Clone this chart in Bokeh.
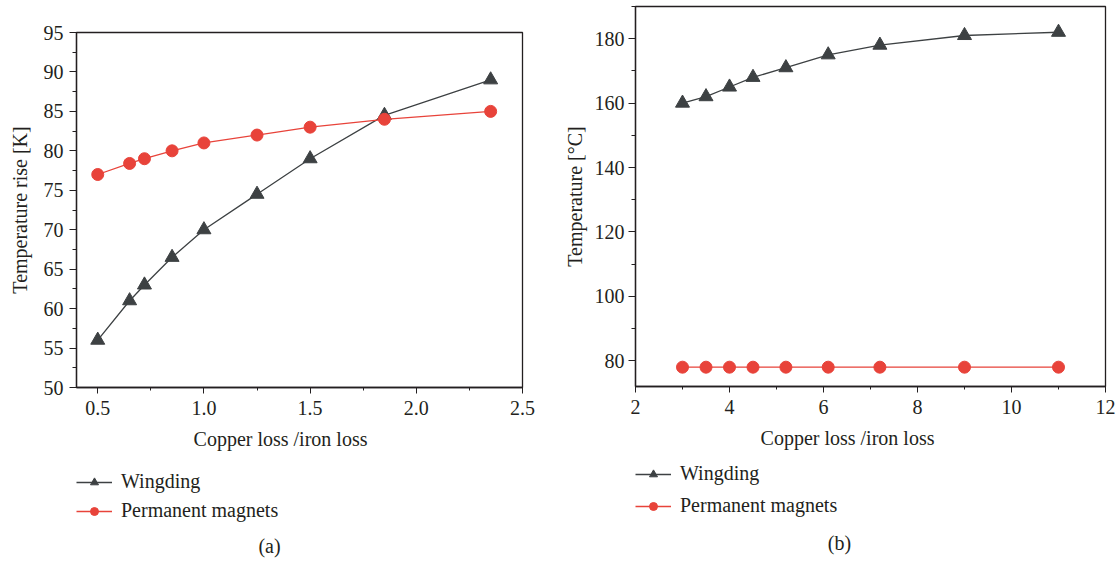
from bokeh.plotting import figure
from bokeh.models import (SingleIntervalTicker, NumeralTickFormatter, Legend, LegendItem,
                          Label, Range1d)
from bokeh.layouts import row, column
from bokeh.embed import file_html
from bokeh.resources import INLINE

FONT = "Liberation Serif"
TEXT = "#231f20"
GRAY = "#3d4143"
RED = "#e8433a"

# ---------------- data ----------------
series_names = ["Wingding", "Permanent magnets"]

# panel (a)
ratio_a = [0.5, 0.65, 0.72, 0.85, 1.0, 1.25, 1.5, 1.85, 2.35]
winding_a = [56, 61, 63, 66.5, 70, 74.5, 79, 84.5, 89]
magnets_a = [77, 78.4, 79, 80, 81, 82, 83, 84, 85]

# panel (b)
ratio_b = [3, 3.5, 4, 4.5, 5.2, 6.1, 7.2, 9, 11]
winding_b = [160, 162, 165, 168, 171, 175, 178, 181, 182]
magnets_b = [78, 78, 78, 78, 78, 78, 78, 78, 78]

x_label = "Copper loss /iron loss"
y_label_a = "Temperature rise [K]"
y_label_b = "Temperature [°C]"

MAIN_H = 425
FOOT_H = 562 - MAIN_H


def style_axis(ax, tick_out, minor_out):
    ax.axis_line_color = TEXT
    ax.axis_line_width = 1.3
    ax.major_tick_line_color = TEXT
    ax.minor_tick_line_color = TEXT
    ax.major_tick_in = 0
    ax.minor_tick_in = 0
    ax.major_tick_out = tick_out
    ax.minor_tick_out = minor_out
    ax.major_label_text_font = FONT
    ax.major_label_text_font_size = "20px"
    ax.major_label_text_color = TEXT
    ax.axis_label_text_font = FONT
    ax.axis_label_text_font_size = "20px"
    ax.axis_label_text_font_style = "normal"
    ax.axis_label_text_color = TEXT


def add_series(p, xs, yw, ym):
    lw = p.line(xs, yw, line_color=GRAY, line_width=1.3)
    sw = p.scatter(xs, yw, marker="triangle", size=14, fill_color=GRAY, line_color=GRAY)
    lm = p.line(xs, ym, line_color=RED, line_width=1.3)
    sm = p.scatter(xs, ym, marker="circle", size=12, fill_color=RED, line_color=RED)
    return lw, sw, lm, sm


def make_panel(xs, yw, ym, xr, yr, xint, yint, xfmt, ylab, borders,
               ylab_standoff, ytick_standoff):
    left, right, top, bottom = borders
    p = figure(width=560, height=MAIN_H, x_range=Range1d(*xr), y_range=Range1d(*yr),
               output_backend="svg", toolbar_location=None, title=None,
               min_border_left=left, min_border_right=right,
               min_border_top=top, min_border_bottom=bottom)
    p.grid.visible = False
    p.outline_line_color = TEXT
    p.outline_line_width = 1.3

    p.xaxis.ticker = SingleIntervalTicker(interval=xint, num_minor_ticks=2)
    p.yaxis.ticker = SingleIntervalTicker(interval=yint, num_minor_ticks=2)
    if xfmt:
        p.xaxis.formatter = NumeralTickFormatter(format=xfmt)
    style_axis(p.xaxis[0], 6, 3)
    style_axis(p.yaxis[0], 7, 4)
    p.xaxis.major_label_standoff = 7
    p.yaxis.major_label_standoff = ytick_standoff
    p.yaxis.axis_label = ylab
    p.yaxis.axis_label_standoff = ylab_standoff

    add_series(p, xs, yw, ym)
    return p


def make_footer(xs, yw, ym, leg_loc, leg_spacing, xlab_pos, cap_pos, cap_text):
    # the series are drawn here only to feed the legend; the ranges keep them out of view
    f = figure(width=560, height=FOOT_H, x_range=Range1d(-10, -9), y_range=Range1d(-10, -9),
               output_backend="svg", toolbar_location=None, title=None,
               x_axis_type=None, y_axis_type=None,
               min_border_left=0, min_border_right=0, min_border_top=0, min_border_bottom=0)
    f.grid.visible = False
    f.outline_line_color = None
    lw, sw, lm, sm = add_series(f, xs, yw, ym)
    legend = Legend(items=[LegendItem(label=series_names[0], renderers=[lw, sw]),
                           LegendItem(label=series_names[1], renderers=[lm, sm])],
                    location=leg_loc, orientation="vertical",
                    glyph_width=36, glyph_height=20, label_height=20,
                    label_standoff=9, spacing=leg_spacing, padding=0, margin=0,
                    border_line_color=None, background_fill_alpha=0,
                    label_text_font=FONT, label_text_font_size="20px",
                    label_text_color=TEXT)
    f.add_layout(legend)
    f.add_layout(Label(x=xlab_pos[0], y=xlab_pos[1], x_units="screen", y_units="screen",
                       text=x_label, text_align="center", text_baseline="alphabetic",
                       text_font=FONT, text_font_size="20px", text_color=TEXT))
    f.add_layout(Label(x=cap_pos[0], y=cap_pos[1], x_units="screen", y_units="screen",
                       text=cap_text, text_align="center", text_baseline="alphabetic",
                       text_font=FONT, text_font_size="20px", text_color=TEXT))
    return f


pa = make_panel(ratio_a, winding_a, magnets_a, (0.4, 2.5), (50, 95), 0.5, 5, "0.0",
                y_label_a, (76, 38, 32, MAIN_H - 387), 10, 6)
pb = make_panel(ratio_b, winding_b, magnets_b, (2, 12), (72, 190), 2, 20, None,
                y_label_b, (73, 15, 6, MAIN_H - 386), 6, 4)

fa = make_footer(ratio_a, winding_a, magnets_a, (0, 40), 6, (204, 124), (193, 17), "(a)")
fb = make_footer(ratio_b, winding_b, magnets_b, (0, 45), 9, (212, 125), (204, 20), "(b)")

layout = row(column(pa, fa), column(pb, fb))
open("out.html", "w").write(file_html(layout, INLINE))
